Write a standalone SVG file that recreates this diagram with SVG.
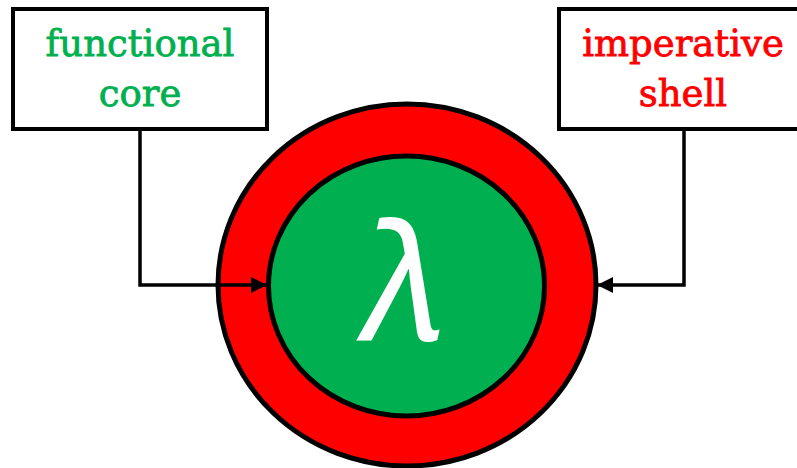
<svg xmlns="http://www.w3.org/2000/svg" width="797" height="468" viewBox="0 0 797 468">
<style>
.box{fill:#fff;stroke:#000;stroke-width:4;}
.lbl{font-family:"DejaVu Serif","Liberation Serif",serif;font-size:37px;text-anchor:middle;stroke-width:0.8;}
.conn{fill:none;stroke:#000;stroke-width:3.5;}
</style>
<defs>
<marker id="ah" markerUnits="userSpaceOnUse" markerWidth="17" markerHeight="16" refX="16" refY="8" orient="auto">
<path d="M0,0 L16,8 L0,16 Z" fill="#000"/>
</marker>
</defs>
<rect width="797" height="468" fill="#fff"/>
<g id="shell">
<ellipse cx="407" cy="285" rx="189" ry="181" fill="#ff0000" stroke="#000" stroke-width="5"/>
</g>
<g id="core">
<ellipse cx="406.5" cy="286" rx="138" ry="130" fill="#00b050" stroke="#000" stroke-width="5"/>
<text x="405" y="340" font-family="Noto Sans, DejaVu Sans, sans-serif" font-style="italic" font-size="162" fill="#fff" text-anchor="middle">λ</text>
</g>
<g id="functional-core">
<rect class="box" x="13" y="9" width="254" height="120"/>
<text class="lbl" fill="#00b050" stroke="#00b050" x="140" y="56">functional</text>
<text class="lbl" fill="#00b050" stroke="#00b050" x="140" y="106">core</text>
</g>
<g id="imperative-shell">
<rect class="box" x="559" y="9" width="250" height="120"/>
<text class="lbl" fill="#ff0000" stroke="#ff0000" x="683" y="56">imperative</text>
<text class="lbl" fill="#ff0000" stroke="#ff0000" x="683" y="106">shell</text>
</g>
<g id="connectors">
<path class="conn" d="M140,131 V285 H267" marker-end="url(#ah)"/>
<path class="conn" d="M684,131 V285 H597" marker-end="url(#ah)"/>
</g>
</svg>
